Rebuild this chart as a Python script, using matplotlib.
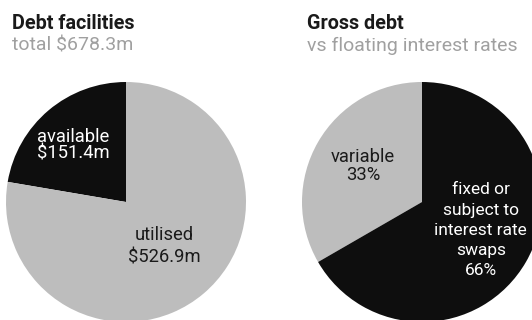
import matplotlib.pyplot as plt

plt.rcParams["font.family"] = ["Roboto", "DejaVu Sans"]

# left chart: debt facilities ($m)
facility_labels = ["available", "utilised"]
facility_values = [151.4, 526.9]

# right chart: gross debt by rate type (%)
rate_labels = ["variable", "fixed or subject to interest rate swaps"]
rate_values = [33, 66]

GREY = "#bdbdbd"
BLACK = "#0e0e0e"
W, H = 532, 320
LABEL_SIZE = 13.2


def pie_axes(fig, cx, cy, r):
    # place a square axes so the unit pie sits at pixel centre (cx, cy) with radius r
    ax = fig.add_axes([(cx - r) / W, (H - cy - r) / H, 2 * r / W, 2 * r / H])
    ax.set_axis_off()
    return ax


fig = plt.figure(figsize=(W / 100, H / 100), dpi=100)

# titles
fig.text(12 / W, 1 - 29 / H, "Debt facilities", fontsize=14.2, fontweight="bold",
         color="#1a1a1a", va="baseline")
fig.text(12 / W, 1 - 51 / H, "total $678.3m", fontsize=14,
         color="#a0a0a0", va="baseline")
fig.text(307 / W, 1 - 29 / H, "Gross debt", fontsize=14.2, fontweight="bold",
         color="#1a1a1a", va="baseline")
fig.text(307 / W, 1 - 51 / H, "vs floating interest rates", fontsize=14,
         color="#a0a0a0", va="baseline")

# left pie
ax1 = pie_axes(fig, 126, 202, 120)
ax1.pie(facility_values, colors=[BLACK, GREY], startangle=90, counterclock=True,
        radius=1, wedgeprops=dict(linewidth=0))
ax1.set_xlim(-1, 1)
ax1.set_ylim(-1, 1)
txt = dict(fontsize=LABEL_SIZE, ha="center", va="center")
ax1.text(-0.44, 0.54, facility_labels[0], color="white", **txt)
ax1.text(-0.44, 0.40, f"${facility_values[0]}m", color="white", **txt)
ax1.text(0.32, -0.275, facility_labels[1], color="#1a1a1a", **txt)
ax1.text(0.32, -0.46, f"${facility_values[1]}m", color="#1a1a1a", **txt)

# right pie
ax2 = pie_axes(fig, 422, 202, 120)
ax2.pie(rate_values, colors=[GREY, BLACK], startangle=90, counterclock=True,
        radius=1, wedgeprops=dict(linewidth=0))
ax2.set_xlim(-1, 1)
ax2.set_ylim(-1, 1)
ax2.text(-0.49, 0.375, rate_labels[0], color="#1a1a1a", **txt)
ax2.text(-0.49, 0.225, f"{rate_values[0]}%", color="#1a1a1a", **txt)
fixed_lines = ["fixed or", "subject to", "interest rate", "swaps", f"{rate_values[1]}%"]
for i, line in enumerate(fixed_lines):
    ax2.text(0.49, 0.1 - i * 0.1667, line, color="white",
             fontsize=12.5, ha="center", va="center")

fig.savefig("out.png", dpi=100)
